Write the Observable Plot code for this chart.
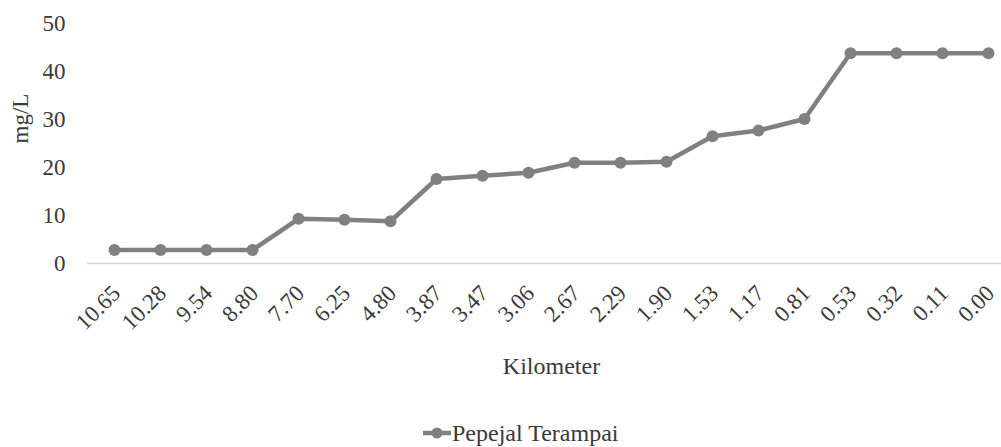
<!DOCTYPE html>
<html><head><meta charset="utf-8">
<script src="https://cdn.jsdelivr.net/npm/d3@7"></script>
<script src="https://cdn.jsdelivr.net/npm/@observablehq/plot@0.6"></script>
<style>
body{margin:0;background:#fff;width:1001px;height:447px;overflow:hidden;position:relative;font-family:"Liberation Serif","Times New Roman",serif;}
#legend{position:absolute;left:0;top:418px;height:30px;display:flex;align-items:center;padding-left:423px;font-size:24px;color:#3a3a3a;font-family:"Liberation Serif","Times New Roman",serif}
#legend svg{margin-right:1px}
svg text{font-family:"Liberation Serif","Times New Roman",serif}
</style></head><body>
<div id="chart"></div>
<div id="legend"></div>
<script>
const kilometers = ["10.65","10.28","9.54","8.80","7.70","6.25","4.80","3.87","3.47","3.06","2.67","2.29","1.90","1.53","1.17","0.81","0.53","0.32","0.11","0.00"];
const tssValues = [2.8,2.8,2.8,2.8,9.3,9.1,8.8,17.6,18.3,18.9,21.0,21.0,21.2,26.5,27.7,30.1,43.8,43.8,43.8,43.8];
const yTicks = [0,10,20,30,40,50];
const seriesName = "Pepejal Terampai";
const xTitle = "Kilometer";
const yTitle = "mg/L";

const data = kilometers.map((k,i)=>({km:k, value:tssValues[i]}));
const gray = "#808080";
const textColor = "#3a3a3a";
const font = "'Liberation Serif', 'Times New Roman', serif";

const chart = Plot.plot({
  width:1001, height:400, marginTop:23, marginBottom:137, marginLeft:112, marginRight:11,
  style:{fontFamily:font, fontSize:"23px", color:textColor, background:"#fff", overflow:"visible"},
  x:{type:"point", domain:kilometers, padding:0},
  y:{domain:[0,50]},
  marks:[
    Plot.ruleY([0],{stroke:"#d9d9d9", strokeWidth:1.5, insetLeft:-25, insetRight:-11}),
    Plot.axisY({ticks:yTicks, tickSize:0, tickPadding:47, label:null, fontSize:23, fontFamily:font}),
    Plot.axisX({tickRotate:-45, tickSize:0, tickPadding:26, dx:2, label:null, fontSize:23, fontFamily:font}),
    Plot.text([yTitle], {text:d=>d, frameAnchor:"left", rotate:-90, dx:-92, fontSize:23, fontFamily:font, fill:textColor}),
    Plot.text([xTitle], {text:d=>d, frameAnchor:"bottom", dy:103, lineAnchor:"middle", fontSize:24, fontFamily:font, fill:textColor}),
    Plot.line(data,{x:"km", y:"value", stroke:gray, strokeWidth:4.5}),
    Plot.dot(data,{x:"km", y:"value", r:6, fill:gray})
  ]
});
document.getElementById("chart").appendChild(chart);

const leg = document.getElementById("legend");
leg.innerHTML = `<svg width="28" height="16"><line x1="0" y1="8" x2="28" y2="8" stroke="${gray}" stroke-width="4.5"/><circle cx="14" cy="8" r="5.5" fill="${gray}"/></svg><span>${seriesName}</span>`;
</script>
</body></html>
